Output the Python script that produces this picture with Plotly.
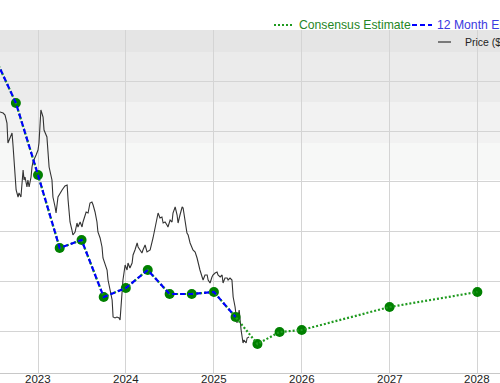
import plotly.graph_objects as go

# ---------------- data ----------------
price_dates = [
    "2022-07-27", "2022-08-09", "2022-08-17", "2022-08-25", "2022-08-29", "2022-09-07",
    "2022-09-15", "2022-09-19", "2022-09-27", "2022-10-02", "2022-10-10", "2022-10-14",
    "2022-10-22", "2022-10-31", "2022-11-04", "2022-11-08", "2022-11-16", "2022-11-20",
    "2022-11-25", "2022-12-03", "2022-12-07", "2022-12-11", "2022-12-24", "2023-01-01",
    "2023-01-05", "2023-01-09", "2023-01-13", "2023-01-22", "2023-01-26", "2023-02-07",
    "2023-02-16", "2023-02-28", "2023-03-04", "2023-03-13", "2023-03-17", "2023-03-25",
    "2023-04-02", "2023-04-11", "2023-04-23", "2023-05-02", "2023-05-06", "2023-05-14",
    "2023-05-22", "2023-05-26", "2023-06-04", "2023-06-12", "2023-06-16", "2023-06-25",
    "2023-07-03", "2023-07-07", "2023-07-20", "2023-07-28", "2023-08-05", "2023-08-13",
    "2023-08-18", "2023-08-26", "2023-09-03", "2023-09-07", "2023-09-16", "2023-09-24",
    "2023-09-28", "2023-10-07", "2023-10-15", "2023-10-19", "2023-10-27", "2023-11-05",
    "2023-11-09", "2023-11-17", "2023-11-25", "2023-12-04", "2023-12-08", "2023-12-12",
    "2023-12-16", "2023-12-20", "2023-12-29", "2024-01-06", "2024-01-10", "2024-01-18",
    "2024-01-27", "2024-01-31", "2024-02-08", "2024-02-17", "2024-02-21", "2024-02-29",
    "2024-03-08", "2024-03-12", "2024-03-21", "2024-03-29", "2024-04-11", "2024-04-23",
    "2024-05-01", "2024-05-10", "2024-05-14", "2024-05-22", "2024-05-30", "2024-06-04",
    "2024-06-12", "2024-06-20", "2024-06-24", "2024-07-03", "2024-07-11", "2024-07-15",
    "2024-07-24", "2024-08-01", "2024-08-05", "2024-08-13", "2024-08-22", "2024-08-26",
    "2024-09-03", "2024-09-11", "2024-09-16", "2024-09-24", "2024-10-06", "2024-10-15",
    "2024-10-23", "2024-10-27", "2024-11-04", "2024-11-13", "2024-11-17", "2024-11-25",
    "2024-12-04", "2024-12-08", "2024-12-16", "2024-12-24", "2024-12-28", "2025-01-06",
    "2025-01-14", "2025-01-18", "2025-01-27", "2025-02-04", "2025-02-08", "2025-02-16",
    "2025-02-25", "2025-03-01", "2025-03-09", "2025-03-17", "2025-03-22", "2025-03-30",
    "2025-04-07", "2025-04-11", "2025-04-16", "2025-04-24", "2025-05-02", "2025-05-06",
    "2025-05-15", "2025-05-19", "2025-05-27",
]
price_values = [
    5.38, 5.36, 5.32, 5.16, 4.76, 4.88,
    4.96, 4.72, 4.16, 3.82, 3.68, 3.76,
    3.68, 4.22, 4.02, 4.08, 3.88, 4.02,
    3.88, 4.08, 4.28, 4.38, 4.52, 4.62,
    4.76, 5.08, 5.42, 5.28, 5.02, 4.88,
    4.28, 4.02, 3.68, 3.48, 3.36, 3.68,
    3.76, 3.82, 3.90, 3.92, 3.62, 3.18,
    3.02, 2.92, 2.98, 3.16, 3.08, 3.18,
    3.08, 3.18, 3.38, 3.36, 3.56, 3.58,
    3.52, 3.38, 3.18, 2.98, 2.86, 2.68,
    2.46, 2.32, 2.22, 2.02, 1.86, 1.62,
    1.28, 1.26, 1.28, 1.26, 1.22, 1.48,
    1.82, 2.02, 2.32, 2.22, 2.36, 2.26,
    2.36, 2.52, 2.62, 2.76, 2.68, 2.62,
    2.56, 2.62, 2.72, 2.58, 2.62, 2.86,
    3.08, 3.28, 3.36, 3.26, 3.28, 3.16,
    3.18, 3.12, 3.08, 3.22, 3.18, 3.36,
    3.48, 3.32, 3.16, 3.32, 3.48, 3.46,
    3.18, 2.96, 2.92, 2.76, 2.62, 2.58,
    2.46, 2.36, 2.22, 2.08, 2.02, 2.12,
    2.12, 2.02, 1.96, 2.08, 2.12, 2.16,
    2.18, 2.12, 2.08, 2.12, 1.96, 2.06,
    2.06, 2.02, 2.06, 2.02, 1.68, 1.48,
    1.16, 1.28, 1.42, 1.02, 0.76, 0.82,
    0.76, 0.86, 0.88,
]

eps_dates = [
    "2022-07-01", "2022-10-01", "2023-01-01", "2023-04-01", "2023-07-01", "2023-10-01",
    "2024-01-01", "2024-04-01", "2024-07-01", "2024-10-01", "2025-01-01", "2025-04-01",
]
eps_values = [6.52, 5.56, 4.12, 2.66, 2.82, 1.68, 1.86, 2.22, 1.74, 1.74, 1.78, 1.28]

consensus_dates = eps_dates + ["2025-07-01", "2025-10-01", "2026-01-01", "2027-01-01", "2028-01-01"]
consensus_values = eps_values + [0.74, 0.98, 1.02, 1.48, 1.78]

year_ticks = ["2023-01-01", "2024-01-01", "2025-01-01", "2026-01-01", "2027-01-01", "2028-01-01"]
year_labels = ["2023", "2024", "2025", "2026", "2027", "2028"]

# background valuation bands: (low, high, colour)
band_edges = [4.02, 4.76, 5.58, 6.58, 7.02]
band_colors = ["#f7f8f7", "#f2f2f2", "#ebebeb", "#e5e5e5"]

# ---------------- figure ----------------
GREEN = "#008000"
BLUE = "#0000ff"
FONT = "Liberation Sans, Arial, sans-serif"
PLOT_H = 343

fig = go.Figure()

for i, col in enumerate(band_colors):
    fig.add_shape(type="rect", xref="paper", yref="y", x0=0, x1=1,
                  y0=band_edges[i], y1=band_edges[i + 1],
                  fillcolor=col, line_width=0, layer="below")

fig.add_trace(go.Scatter(x=price_dates, y=price_values, mode="lines",
                         line=dict(color="#333333", width=1.1),
                         name="Price", showlegend=False, hoverinfo="skip"))

fig.add_trace(go.Scatter(x=consensus_dates, y=consensus_values, mode="markers",
                         marker=dict(color=GREEN, size=10, line=dict(width=0)),
                         showlegend=False, hoverinfo="skip"))

fig.add_trace(go.Scatter(x=consensus_dates, y=consensus_values, mode="lines",
                         line=dict(color="#1f9a1f", width=2.2, dash="2px,2px"),
                         name="Consensus Estimate", showlegend=False, hoverinfo="skip"))

fig.add_trace(go.Scatter(x=eps_dates, y=eps_values, mode="lines",
                         line=dict(color=BLUE, width=2.2, dash="5px,3px"),
                         name="12 Month EPS", showlegend=False, hoverinfo="skip"))

# year labels just under the axis line
for tv, tl in zip(year_ticks, year_labels):
    fig.add_annotation(xref="x", yref="paper", x=tv, y=0, yshift=2,
                       xanchor="center", yanchor="top", showarrow=False,
                       text=tl, font=dict(family=FONT, size=11.5, color="#222222"))

# manual legend (the reference is cropped at the right edge)
top_y = 1 + 5 / PLOT_H
fig.add_shape(type="line", xref="paper", yref="paper", x0=274 / 500, x1=292 / 500,
              y0=top_y, y1=top_y, line=dict(color="#1f9a1f", width=2, dash="2px,2px"))
fig.add_annotation(xref="paper", yref="paper", x=297 / 500, y=top_y,
                   xanchor="left", yanchor="middle", showarrow=False,
                   text="Consensus Estimate", font=dict(family=FONT, size=12.2, color="#268626"))
fig.add_shape(type="line", xref="paper", yref="paper", x0=412 / 500, x1=432 / 500,
              y0=top_y, y1=top_y, line=dict(color=BLUE, width=2, dash="5px,3px"))
fig.add_annotation(xref="paper", yref="paper", x=435 / 500, y=top_y,
                   xanchor="left", yanchor="middle", showarrow=False,
                   text="12 Month EPS", font=dict(family=FONT, size=12.2, color="#3a3ae0"))
price_y = 1 - 12 / PLOT_H
fig.add_shape(type="line", xref="paper", yref="paper", x0=438 / 500, x1=451 / 500,
              y0=price_y, y1=price_y, line=dict(color="#555555", width=1.5))
fig.add_annotation(xref="paper", yref="paper", x=463 / 500, y=price_y,
                   xanchor="left", yanchor="middle", showarrow=False,
                   text="Price ($)", font=dict(family=FONT, size=10.5, color="#222222"))

fig.update_layout(
    width=500, height=383,
    margin=dict(l=0, r=0, t=30, b=10, autoexpand=False),
    paper_bgcolor="white", plot_bgcolor="white",
    showlegend=False,
    xaxis=dict(type="date", range=["2022-07-27", "2028-04-04"],
               tickvals=year_ticks, showticklabels=False, automargin=False,
               showgrid=True, gridcolor="#d4d4d4", gridwidth=1,
               showline=True, linecolor="#c8c8c8", linewidth=1,
               ticks="", zeroline=False, fixedrange=True),
    yaxis=dict(range=[0.16, 7.02], tickvals=[1, 2, 3, 4, 5, 6, 7], automargin=False,
               showticklabels=False, showgrid=True, gridcolor="#d4d4d4", gridwidth=1,
               zeroline=False, showline=False, fixedrange=True),
)

fig.write_html("out.html")
